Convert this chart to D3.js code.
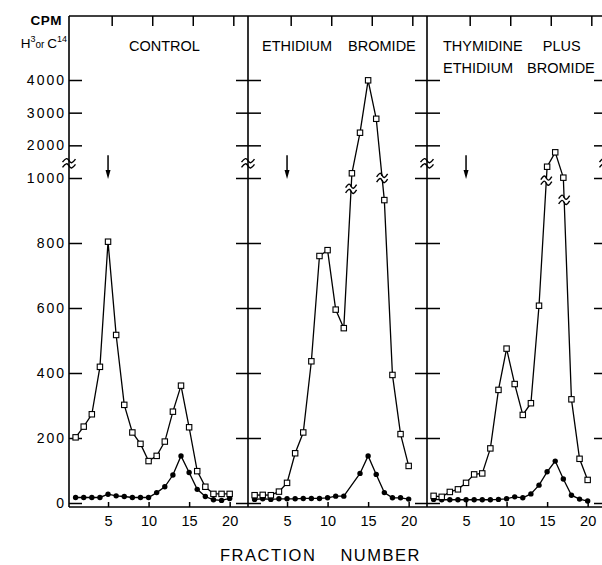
<!DOCTYPE html>
<html>
<head>
<meta charset="utf-8">
<script src="https://cdn.jsdelivr.net/npm/d3@7"></script>
<style>
  body { margin: 0; background: #fff; }
  svg { display: block; font-family: "Liberation Sans", Arial, sans-serif; }
</style>
</head>
<body>
<svg width="602" height="565"></svg>
<script>
// fraction numbers and the three gradients
const fractions = d3.range(1, 21);

const controlH3 = [202, 235, 273, 419, 804, 517, 302, 217, 182, 129, 145, 189, 281, 361, 233, 98, 50, 28, 28, 28];
const controlC14 = [17, 17, 17, 17, 27, 22, 20, 17, 17, 17, 32, 50, 86, 145, 94, 42, 20, 10, 8, 14];

const ethidiumH3 = [24, 25, 24, 35, 62, 153, 217, 436, 760, 778, 595, 538, 1144, 2386, 3990, 2813, 932, 394, 212, 114];
const ethidiumC14 = [11, 13, 11, 13, 13, 13, 14, 14, 14, 16, 21, 21, null, 91, 145, 88, 32, 16, 16, 12];

const thymidineH3 = [22, 19, 34, 42, 62, 88, 91, 168, 348, 475, 366, 271, 307, 607, 1345, 1786, 1010, 319, 136, 71];
const thymidineC14 = [11, 10, 10, 10, 10, 10, 10, 10, 11, 13, 19, 16, 28, 55, 96, 129, 74, 24, 12, 6];

const panelTitles = [
  ["CONTROL"],
  ["ETHIDIUM BROMIDE"],
  ["THYMIDINE PLUS", "ETHIDIUM BROMIDE"],
];

const yTicks = [0, 200, 400, 600, 800, 1000, 2000, 3000, 4000];
const xTicks = [5, 10, 15, 20];
const topTicks = [5.45, 10.45, 15.45, 20.45];
const arrowFraction = 5;
const scaleJoin = 1000; // linear below, compressed above
const axisBreakValue = 1450;

const svg = d3.select("svg");

const plotTop = 16;
const plotBottom = 507;
const firstLeft = 69;
const panelW = 179;

const y = d3.scaleLinear().domain([0, scaleJoin, 4000]).range([503, 178, 80]);

const series = [
  { h3: controlH3, c14: controlC14 },
  { h3: ethidiumH3, c14: ethidiumC14 },
  { h3: thymidineH3, c14: thymidineC14 },
];

const toPoints = (vals) =>
  fractions.map((f, i) => ({ f: f, v: vals[i] })).filter((d) => d.v != null);

const squiggle = (g, cx, cy, w) => {
  const h = w / 2;
  [-2.6, 2.6].forEach((off) => {
    g.append("path")
      .attr("d", `M${cx - h},${cy + off + 1.5} C${cx - h / 2},${cy + off - 3} ${cx - h / 4},${cy + off - 3} ${cx},${cy + off} S${cx + h / 2},${cy + off + 3} ${cx + h},${cy + off - 1.5}`)
      .attr("fill", "none")
      .attr("stroke", "#000")
      .attr("stroke-width", 1.4);
  });
};

// frame
svg.append("line")
  .attr("x1", firstLeft).attr("x2", firstLeft + 3 * panelW)
  .attr("y1", plotTop).attr("y2", plotTop)
  .attr("stroke", "#000").attr("stroke-width", 1.5);
svg.append("line")
  .attr("x1", firstLeft).attr("x2", firstLeft + 3 * panelW)
  .attr("y1", plotBottom).attr("y2", plotBottom)
  .attr("stroke", "#000").attr("stroke-width", 1.5);

for (let k = 0; k <= 3; k++) {
  const bx = firstLeft + k * panelW;
  svg.append("line")
    .attr("x1", bx).attr("x2", bx)
    .attr("y1", plotTop).attr("y2", plotBottom)
    .attr("stroke", "#000").attr("stroke-width", 1.6);

  // ticks to the right of the border
  if (k < 3) {
    const axR = svg.append("g")
      .attr("transform", `translate(${bx},0)`)
      .call(d3.axisLeft(y).tickValues(yTicks).tickSizeInner(-13).tickSizeOuter(0)
        .tickPadding(3).tickFormat(k === 0 ? d3.format("d") : ""));
    axR.select(".domain").remove();
    axR.selectAll("line").attr("stroke-width", 1.5);
    axR.selectAll("text")
      .attr("font-size", 14)
      .attr("letter-spacing", 2)
      .attr("fill", "#000")
      .attr("font-family", "'Liberation Sans', Arial, sans-serif");
  }
  // ticks to the left of the border
  if (k > 0) {
    const axL = svg.append("g")
      .attr("transform", `translate(${bx},0)`)
      .call(d3.axisLeft(y).tickValues(yTicks).tickSizeInner(12).tickSizeOuter(0).tickFormat(""));
    axL.select(".domain").remove();
    axL.selectAll("line").attr("stroke-width", 1.5);
  }

  squiggle(svg, bx, y(axisBreakValue), 13);
}

// y axis title
svg.append("text")
  .attr("x", 62).attr("y", 25)
  .attr("text-anchor", "end")
  .attr("font-size", 13.5)
  .attr("font-weight", "bold")
  .attr("letter-spacing", 0.5)
  .text("CPM");

const unitLabel = svg.append("text")
  .attr("x", 67).attr("y", 48)
  .attr("text-anchor", "end")
  .attr("font-size", 13.5);
unitLabel.append("tspan").text("H");
unitLabel.append("tspan").attr("font-size", 9).attr("dy", -6).text("3");
unitLabel.append("tspan").attr("font-size", 10).attr("dy", 6).text("or ");
unitLabel.append("tspan").text("C");
unitLabel.append("tspan").attr("font-size", 9).attr("dy", -6).text("14");

// panels
const titleLayout = [
  { x: 60, spacing: [0] },
  { x: 14, spacing: [12] },
  { x: 16, spacing: [16, 10] },
];

series.forEach((s, i) => {
  const left = firstLeft + i * panelW;
  const x = d3.scaleLinear().domain([0, 22.2]).range([left - 1.5, left + 178.5]);
  const g = svg.append("g");

  // top ticks
  const axTop = g.append("g")
    .attr("transform", `translate(0,${plotTop})`)
    .call(d3.axisBottom(x).tickValues(topTicks).tickSize(10).tickSizeOuter(0).tickFormat(""));
  axTop.select(".domain").remove();
  axTop.selectAll("line").attr("stroke-width", 1.5);

  // bottom ticks and labels
  const axBottom = g.append("g")
    .attr("transform", `translate(0,${plotBottom})`)
    .call(d3.axisBottom(x).tickValues(xTicks).tickSizeInner(-5).tickSizeOuter(0).tickPadding(9));
  axBottom.select(".domain").remove();
  axBottom.selectAll("line").attr("stroke-width", 1.5);
  axBottom.selectAll("text")
    .attr("font-size", 14.5)
    .attr("fill", "#000")
    .attr("font-family", "'Liberation Sans', Arial, sans-serif");

  // title
  panelTitles[i].forEach((line, j) => {
    g.append("text")
      .attr("x", left + titleLayout[i].x)
      .attr("y", 51 + j * 22)
      .attr("font-size", 14.5)
      .attr("word-spacing", titleLayout[i].spacing[j])
      .text(line);
  });

  // arrow
  const ax = x(arrowFraction);
  g.append("line")
    .attr("x1", ax).attr("x2", ax)
    .attr("y1", y(1700)).attr("y2", y(1000) - 6)
    .attr("stroke", "#000").attr("stroke-width", 1.5);
  g.append("path")
    .attr("d", `M${ax - 2.5},${y(1000) - 8} L${ax + 2.5},${y(1000) - 8} L${ax},${y(1000) + 1} Z`)
    .attr("fill", "#000");

  const line = d3.line().x((d) => x(d.f)).y((d) => y(d.v));

  const h3 = toPoints(s.h3);
  const c14 = toPoints(s.c14);

  g.append("path").datum(c14)
    .attr("d", line).attr("fill", "none")
    .attr("stroke", "#000").attr("stroke-width", 1.3);
  g.append("path").datum(h3)
    .attr("d", line).attr("fill", "none")
    .attr("stroke", "#000").attr("stroke-width", 1.3);

  // breaks where the open-square curve crosses the scale change
  for (let j = 1; j < h3.length; j++) {
    const a = h3[j - 1];
    const b = h3[j];
    if ((a.v - scaleJoin) * (b.v - scaleJoin) < 0) {
      const ya = y(a.v), yb = y(b.v);
      let t = (y(scaleJoin) - ya) / (yb - ya);
      t = Math.max(0.1, Math.min(0.9, t));
      const px = x(a.f) + t * (x(b.f) - x(a.f));
      const py = ya + t * (yb - ya);
      g.append("rect")
        .attr("x", px - 4).attr("y", py - 2).attr("width", 8).attr("height", 4)
        .attr("fill", "#fff");
      squiggle(g, px, py, 11);
    }
  }

  g.selectAll(".c14").data(c14).enter()
    .append("circle")
    .attr("class", "c14")
    .attr("cx", (d) => x(d.f))
    .attr("cy", (d) => y(d.v))
    .attr("r", 2.7)
    .attr("fill", "#000");

  g.selectAll(".h3").data(h3).enter()
    .append("rect")
    .attr("class", "h3")
    .attr("x", (d) => x(d.f) - 2.7)
    .attr("y", (d) => y(d.v) - 2.7)
    .attr("width", 5.4)
    .attr("height", 5.4)
    .attr("fill", "#fff")
    .attr("stroke", "#000")
    .attr("stroke-width", 1.1);
});

svg.append("text")
  .attr("x", 220).attr("y", 561)
  .attr("font-size", 16.5)
  .attr("letter-spacing", 1.5)
  .attr("word-spacing", 18)
  .text("FRACTION NUMBER");
</script>
</body>
</html>
